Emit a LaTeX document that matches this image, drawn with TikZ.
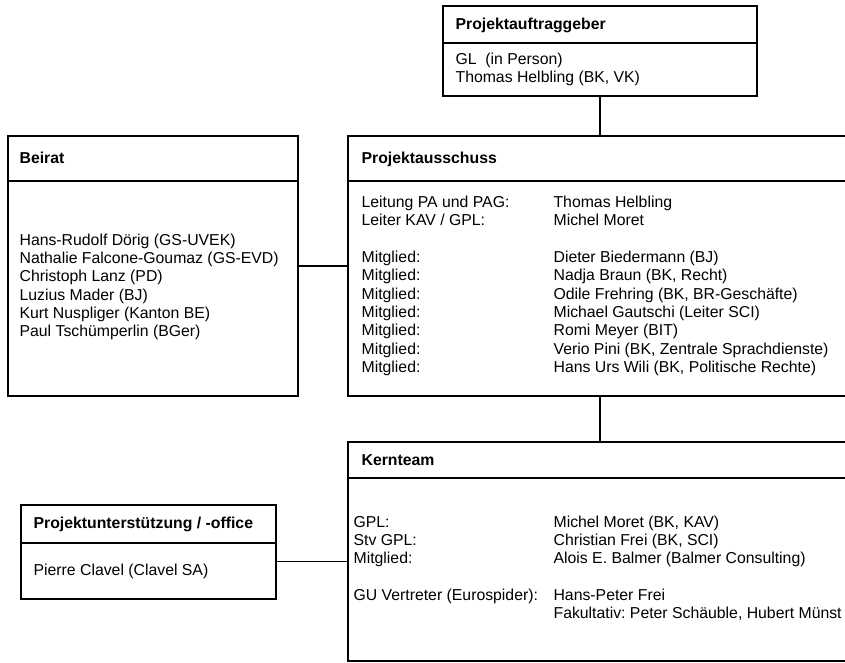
\documentclass[tikz,border=0pt]{standalone}
\usepackage{fontspec}
\setmainfont{Liberation Sans}
\usetikzlibrary{positioning}
\frenchspacing

\begin{document}
\begin{tikzpicture}[x=0.75pt, y=-0.75pt, line width=0.9pt,
	font=\fontsize{11.85}{13.75}\selectfont,
	box/.style={draw, rectangle, inner sep=0pt},
	head/.style={anchor=base west, inner sep=0pt, font=\fontsize{11.85}{13.75}\selectfont\bfseries},
	body/.style={anchor=base west, inner sep=0pt}]
	\useasboundingbox (0,0) rectangle (845,662);
	\clip (0,0) rectangle (845,662);

	\node[box, minimum width=235.5pt, minimum height=67.5pt] (auftrag) at (600,51) {};
	\node[box, minimum width=217.5pt, minimum height=195pt] (beirat) at (153,266) {};
	\node[box, minimum width=414pt, minimum height=195pt] (ausschuss) at (624,266) {};
	\node[box, minimum width=414pt, minimum height=164.25pt] (kern) at (624,551.5) {};
	\node[box, minimum width=191.25pt, minimum height=70.5pt] (office) at (148.5,552) {};

	\draw (auftrag.west |- 0,43) -- (auftrag.east |- 0,43);
	\draw (beirat.west |- 0,181) -- (beirat.east |- 0,181);
	\draw (ausschuss.west |- 0,181) -- (ausschuss.east |- 0,181);
	\draw (kern.west |- 0,478) -- (kern.east |- 0,478);
	\draw (office.west |- 0,543) -- (office.east |- 0,543);

	\node[head] (auftragHead) at (455,29.5) {Projektauftraggeber};
	\node[body] (auftragBody) at (455,64) {\begin{tabular}[t]{@{}l@{}}
		GL~ (in Person)\\
		Thomas Helbling (BK, VK)
	\end{tabular}};

	\node[head] (beiratHead) at (19,163) {Beirat};
	\node[body] (beiratBody) at (19,245) {\begin{tabular}[t]{@{}l@{}}
		Hans-Rudolf Dörig (GS-UVEK)\\
		Nathalie Falcone-Goumaz (GS-EVD)\\
		Christoph Lanz (PD)\\
		Luzius Mader (BJ)\\
		Kurt Nuspliger (Kanton BE)\\
		Paul Tschümperlin (BGer)
	\end{tabular}};

	\node[head] (ausschussHead) at (361,163.5) {Projektausschuss};
	\node[body] (ausschussBody) at (361,207.5) {\begin{tabular}[t]{@{}p{144pt}@{}l@{}}
		Leitung PA und PAG: & Thomas Helbling\\
		Leiter KAV / GPL: & Michel Moret\\[13.75pt]
		Mitglied: & Dieter Biedermann (BJ)\\
		Mitglied: & Nadja Braun (BK, Recht)\\
		Mitglied: & Odile Frehring (BK, BR-Geschäfte)\\
		Mitglied: & Michael Gautschi (Leiter SCI)\\
		Mitglied: & Romi Meyer (BIT)\\
		Mitglied: & Verio Pini (BK, Zentrale Sprachdienste)\\
		Mitglied: & Hans Urs Wili (BK, Politische Rechte)
	\end{tabular}};

	\node[head] (kernHead) at (361,465.5) {Kernteam};
	\node[body] (kernBody) at (353,527) {\begin{tabular}[t]{@{}p{150pt}@{}l@{}}
		GPL: & Michel Moret (BK, KAV)\\
		Stv GPL: & Christian Frei (BK, SCI)\\
		Mitglied: & Alois E. Balmer (Balmer Consulting)\\[13.75pt]
		GU Vertreter (Eurospider): & Hans-Peter Frei\\
		 & Fakultativ: Peter Schäuble, Hubert Münst
	\end{tabular}};

	\node[head] (officeHead) at (33,528.5) {Projektunterstützung / -office};
	\node[body] (officeBody) at (33,575.5) {Pierre Clavel (Clavel SA)};

	\draw (auftrag.south) -- (auftrag.south |- ausschuss.north);
	\draw (beirat.east) -- (beirat.east -| ausschuss.west);
	\draw (auftrag.south |- ausschuss.south) -- (auftrag.south |- kern.north);
	\draw ([yshift=-7pt]office.east) -- ([yshift=-7pt]office.east -| kern.west);
\end{tikzpicture}
\end{document}
